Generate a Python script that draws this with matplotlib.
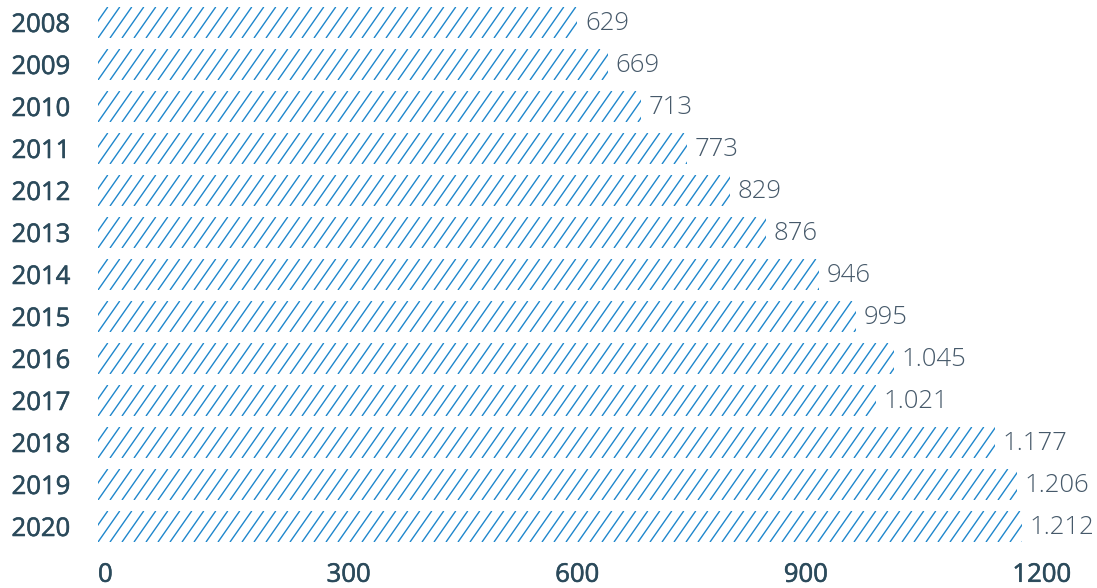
import numpy as np
import matplotlib
matplotlib.use("Agg")
import matplotlib.pyplot as plt
import matplotlib.patheffects as pe
from matplotlib.collections import LineCollection
from matplotlib.transforms import IdentityTransform

# data
years = ["2008", "2009", "2010", "2011", "2012", "2013", "2014",
         "2015", "2016", "2017", "2018", "2019", "2020"]
counts = [629, 669, 713, 773, 829, 876, 946, 995, 1045, 1021, 1177, 1206, 1212]
x_ticks = [0, 300, 600, 900, 1200]

W, H = 1097, 588
label_col = "#2b4a5b"
value_col = "#46596a"
hatch_col = "#1f87cc"

plt.rcParams["font.family"] = ["Open Sans", "DejaVu Sans"]

fig = plt.figure(figsize=(W / 100, H / 100), dpi=100)
# axes in pixels: x from 98 to right edge, rows from 1.5 to 547.5
ax = fig.add_axes([98 / W, (H - 547.5) / H, (W - 98) / W, 546 / H])

pos = np.arange(len(years))
bars = ax.barh(pos, counts, height=0.74, color="none", edgecolor="none")
ax.set_xlim(0, (W - 98) / 0.762)
ax.set_ylim(len(years) - 0.5, -0.5)

for s in ax.spines.values():
    s.set_visible(False)

ax.set_yticks(pos, years)
ax.set_xticks(x_ticks, [str(t) for t in x_ticks])
ax.tick_params(axis="y", length=0, pad=20, labelsize=18.5, labelcolor=label_col)
ax.tick_params(axis="x", length=0, pad=11, labelsize=18.5, labelcolor=label_col)
# a thin stroke gives the regular face a semibold look
thicken = [pe.withStroke(linewidth=0.4, foreground=label_col)]
for lab in ax.get_yticklabels() + ax.get_xticklabels():
    lab.set_path_effects(thicken)
for lab in ax.get_xticklabels():
    lab.set_horizontalalignment("left")

# steep diagonal hatching, clipped to each bar
step = 12.0
slant = 0.7
for b in bars:
    bb = b.get_window_extent()
    h = bb.height
    start = 98 + np.floor((bb.x0 - h * slant - 98) / step) * step
    segs = [[(x0, bb.y0), (x0 + h * slant, bb.y1)]
            for x0 in np.arange(start, bb.x1 + step, step)]
    lc = LineCollection(segs, colors=hatch_col, linewidths=1.0,
                        transform=IdentityTransform())
    ax.add_collection(lc, autolim=False)
    lc.set_clip_path(b)  # after add_collection, or the axes clip wins

for i, v in enumerate(counts):
    txt = f"{v:,}".replace(",", ".")
    ax.annotate(txt, (v, i), xytext=(5.5, -1), textcoords="offset points",
                ha="left", va="center", fontsize=18.5, fontweight="light",
                color=value_col)

fig.savefig("out.png", dpi=100)
